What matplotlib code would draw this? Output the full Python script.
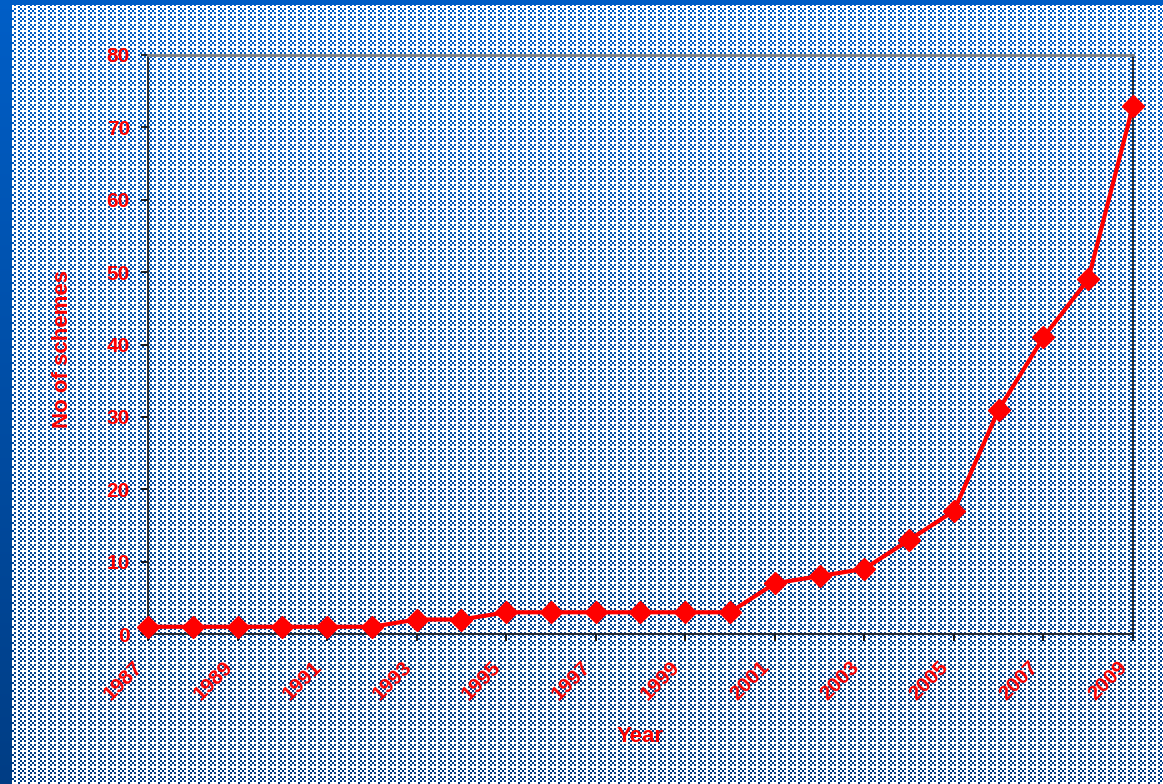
import matplotlib
matplotlib.use('Agg')
import matplotlib.pyplot as plt
import matplotlib.transforms as mtransforms
import numpy as np

# ── data ────────────────────────────────────────────────────────────────────
years   = [1987, 1988, 1989, 1990, 1991, 1992, 1993, 1994, 1995, 1996, 1997, 1998,
           1999, 2000, 2001, 2002, 2003, 2004, 2005, 2006, 2007, 2008, 2009]
schemes = [1, 1, 1, 1, 1, 1, 2, 2, 3, 3, 3, 3,
           3, 3, 7, 8, 9, 13, 17, 31, 41, 49, 73]
tick_years = years[::2]

RED = '#ff0000'
W, H = 1163, 784

plt.rcParams.update({'font.family': ['Liberation Sans', 'DejaVu Sans'],
                     'font.weight': 'bold'})

fig = plt.figure(figsize=(W / 100, H / 100), dpi=100)

# ── dithered blue/white slide background (X-shaped dot motif) ─────────────
tile = np.array([
    [1, 0, 1, 0, 0],
    [0, 1, 0, 0, 1],
    [1, 0, 1, 0, 0],
    [0, 0, 0, 0, 1],
], dtype=float)
yy = (np.arange(H) // 2) % tile.shape[0]
xx = (np.arange(W) // 2) % tile.shape[1]
mask = tile[yy[:, None], xx[None, :]]
mask[:5, :] = 1
mask[:, :12] = 1
t = np.linspace(0, 1, H)[:, None, None]
top = np.array([0.0, 0.37, 0.78])
bot = np.array([0.0, 0.24, 0.52])
blue = np.broadcast_to(top * (1 - t) + bot * t, (H, W, 3))
bg = np.where(mask[..., None] > 0, blue, 1.0)
fig.figimage(bg, 0, 0, origin='upper', zorder=-5)

# ── chart ───────────────────────────────────────────────────────────────────
ax = fig.add_axes([148 / W, 1 - 634 / H, (1133 - 148) / W, (634 - 55) / H])
ax.set_facecolor('none')
ax.plot(years, schemes, color=RED, lw=3, marker='D', ms=11,
        mec=RED, mfc=RED, clip_on=False, zorder=5)

ax.set_xlim(1987, 2009)
ax.set_ylim(0, 80)
ax.set_yticks(range(0, 81, 10))
ax.set_xticks(tick_years)
ax.set_xticklabels([str(y) for y in tick_years], rotation=45, ha='right',
                   va='top', rotation_mode='anchor')

ax.tick_params(axis='both', direction='out', length=5, width=1.2,
               colors='black', labelcolor=RED, labelsize=15)
ax.tick_params(axis='x', pad=12)
ax.tick_params(axis='y', pad=8)
for s in ['left', 'right', 'bottom']:
    ax.spines[s].set_color('#202020')
    ax.spines[s].set_linewidth(1.3)
ax.spines['top'].set_color('#808080')
ax.spines['top'].set_linewidth(2)

# nudge rotated year labels left (after tick_params, which resets transforms)
shift = mtransforms.ScaledTranslation(-15 / 100, 0, fig.dpi_scale_trans)
for lab in ax.get_xticklabels():
    lab.set_transform(lab.get_transform() + shift)

fig.text(63 / W, 1 - 349 / H, 'No of schemes', rotation=90, color=RED,
         fontsize=16, fontweight='bold', ha='center', va='center')
fig.text(640 / W, 1 - 736 / H, 'Year', color=RED,
         fontsize=16, fontweight='bold', ha='center', va='center')

fig.savefig('out.png', dpi=100)
